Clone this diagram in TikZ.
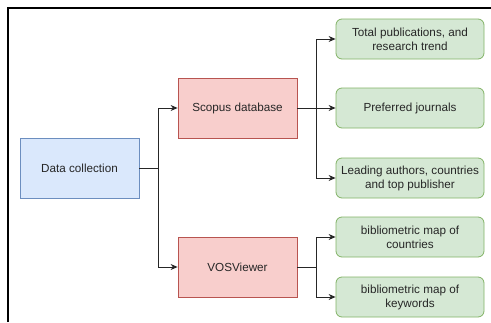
\documentclass[tikz,border=0pt]{standalone}
\usepackage{fontspec}
\setmainfont{Liberation Sans}
\usetikzlibrary{arrows.meta}
\definecolor{bluefill}{HTML}{DAE8FC}
\definecolor{bluedraw}{HTML}{6C8EBF}
\definecolor{redfill}{HTML}{F8CECC}
\definecolor{reddraw}{HTML}{B85450}
\definecolor{greenfill}{HTML}{D5E8D4}
\definecolor{greendraw}{HTML}{82B366}
\definecolor{txt}{HTML}{262626}
\tikzset{
  basebox/.style={draw,line width=0.8pt,align=center,inner sep=0pt,text=txt,
    font=\fontsize{11.7}{14}\selectfont},
  srcbox/.style={basebox,minimum width=119pt,minimum height=60pt},
  outbox/.style={basebox,minimum width=148pt,minimum height=40pt,rounded corners=6pt,
    fill=greenfill,draw=greendraw},
  link/.style={line width=0.9pt,draw=black!85,-{Stealth[length=7pt,width=6pt]}}
}
\begin{document}
\begin{tikzpicture}[x=1pt,y=-1pt]
	\useasboundingbox (0,0) rectangle (491,322);
	% frame
	\draw [line width=1.6pt] (8,322)--(8,8)--(491,8);
	% sources
	\node [srcbox,fill=bluefill,draw=bluedraw] (data) at (79.5,168) {Data collection};
	\node [srcbox,fill=redfill,draw=reddraw] (scopus) at (237.5,108) {Scopus database};
	\node [srcbox,fill=redfill,draw=reddraw] (vos) at (237.5,267) {VOSViewer};
	% outputs
	\node [outbox] (total) at (410,39) {Total publications, and\\research trend};
	\node [outbox] (journals) at (410,108) {Preferred journals};
	\node [outbox] (leading) at (410,178) {Leading authors, countries\\and top publisher};
	\node [outbox] (mapcountries) at (410,237) {bibliometric map of\\countries};
	\node [outbox] (mapkeywords) at (410,297) {bibliometric map of\\keywords};
	% connectors
	\draw [link] (data.east) -- ++(19,0) |- (scopus.west);
	\draw [link] (data.east) -- ++(19,0) |- (vos.west);
	\draw [link] (scopus.east) -- ++(19,0) |- (total.west);
	\draw [link] (scopus.east) -- (journals.west);
	\draw [link] (scopus.east) -- ++(19,0) |- (leading.west);
	\draw [link] (vos.east) -- ++(19,0) |- (mapcountries.west);
	\draw [link] (vos.east) -- ++(19,0) |- (mapkeywords.west);
\end{tikzpicture}
\end{document}
